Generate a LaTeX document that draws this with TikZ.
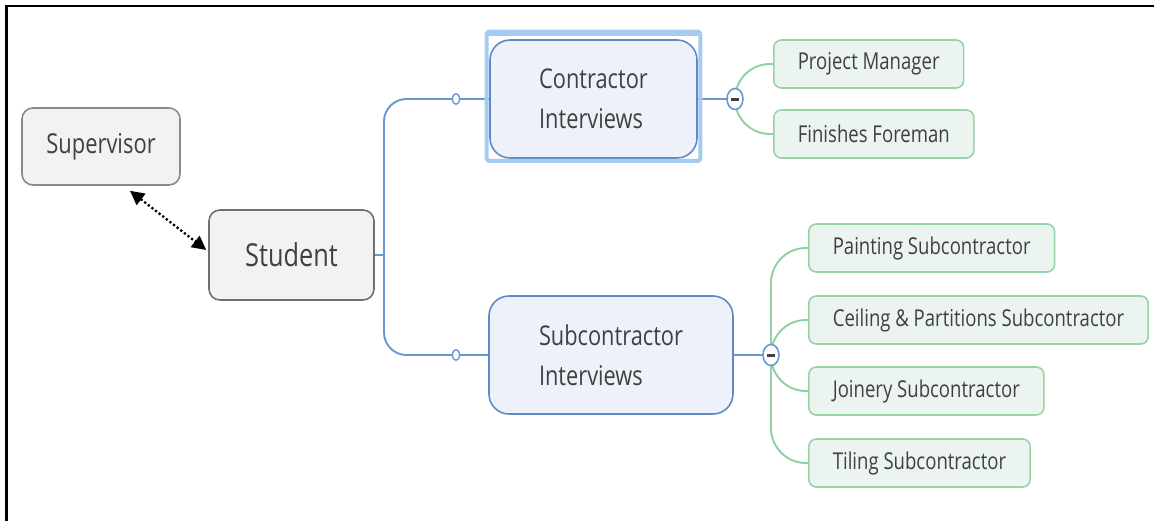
\documentclass[tikz,border=0pt]{standalone}
\usepackage{fontspec}
\setmainfont{Open Sans}[FakeStretch=0.8]
\usetikzlibrary{positioning,arrows.meta,shapes.geometric,backgrounds}

\definecolor{boxgray}{HTML}{F2F2F2}
\definecolor{edgegray}{HTML}{8A8A8A}
\definecolor{edgedark}{HTML}{707070}
\definecolor{boxblue}{HTML}{EDF2FA}
\definecolor{edgeblue}{HTML}{5E89C4}
\definecolor{lineblue}{HTML}{6A97CF}
\definecolor{selblue}{HTML}{A6CBF2}
\definecolor{boxgreen}{HTML}{EBF4EE}
\definecolor{edgegreen}{HTML}{99D3A8}
\definecolor{linegreen}{HTML}{92CFA2}
\definecolor{textgray}{HTML}{404040}

\begin{document}
\begin{tikzpicture}[
graynode/.style={rectangle, rounded corners=0.22cm, draw=edgegray, fill=boxgray, line width=0.9pt, text=textgray},
bluenode/.style={rectangle, rounded corners=0.4cm, draw=edgeblue, fill=boxblue, line width=0.9pt, text=textgray, align=left, font=\fontsize{15.5}{23}\selectfont, minimum height=2.36cm},
greennode/.style={rectangle, rounded corners=0.15cm, draw=edgegreen, fill=boxgreen, line width=0.9pt, text=textgray, anchor=west, inner xsep=0.48cm, minimum height=0.96cm, font=\fontsize{13.2}{15}\selectfont},
knob/.style={ellipse, draw=lineblue, fill=white, line width=0.8pt, inner sep=0pt, minimum width=0.15cm, minimum height=0.21cm},
toggle/.style={ellipse, draw=lineblue, fill=white, line width=0.9pt, inner sep=0pt, minimum width=0.32cm, minimum height=0.42cm,
  path picture={\fill[textgray] ([xshift=-0.08cm,yshift=-0.03cm]path picture bounding box.center) rectangle ([xshift=0.08cm,yshift=0.03cm]path picture bounding box.center);}},
blueline/.style={draw=lineblue, line width=1.1pt},
greenline/.style={draw=linegreen, line width=1.1pt},
linkline/.style={line width=1.3pt, dash pattern=on 1.3pt off 1.3pt, {Triangle[width=8pt,length=8pt]}-{Triangle[width=8pt,length=8pt]}}
]
\useasboundingbox (0,0) rectangle (23.08,-10.42);
%Frame
\draw[line width=1.4pt] (23.08,-0.12) -- (0.13,-0.12) -- (0.13,-10.42);
%Nodes
\node[graynode, minimum width=3.16cm, minimum height=1.54cm, font=\fontsize{15.6}{18}\selectfont] (supervisor) at (2.02,-2.93) {Supervisor};
\node[graynode, draw=edgedark, minimum width=3.30cm, minimum height=1.80cm, font=\fontsize{18}{22}\selectfont] (student) at (5.83,-5.10) {Student};
\node[bluenode, minimum width=4.14cm] (contractor) at (11.87,-1.98) {Contractor\\Interviews};
\node[bluenode, minimum width=4.88cm] (subcontractor) at (12.22,-7.10) {Subcontractor\\Interviews};
\draw[selblue, line width=2.3pt, rounded corners=1pt] ([shift={(-0.05,0.15)}]contractor.north west) rectangle ([shift={(0.05,-0.04)}]contractor.south east);
\fill[selblue] ([shift={(-0.05,0.19)}]contractor.north west) rectangle ([shift={(0.05,0.06)}]contractor.north east);

\node[knob] (dotC) at (9.12,-1.98) {};
\node[knob] (dotS) at (9.12,-7.10) {};
\node[toggle] (minusC) at (14.70,-1.98) {};
\node[toggle] (minusS) at (15.42,-7.10) {};
\coordinate (trunk) at (7.68,-5.10);

\node[greennode] (pm)    at (15.46,-1.28) {Project Manager};
\node[greennode] (ff)    at (15.46,-2.68) {Finishes Foreman};
\node[greennode] (paint) at (16.16,-4.96) {Painting Subcontractor};
\node[greennode] (ceil)  at (16.16,-6.40) {Ceiling \& Partitions Subcontractor};
\node[greennode] (join)  at (16.16,-7.82) {Joinery Subcontractor};
\node[greennode] (tile)  at (16.16,-9.26) {Tiling Subcontractor};
%Lines
\begin{scope}[on background layer]
\draw[blueline] (student.east) -- (trunk);
\draw[blueline, rounded corners=0.45cm] (dotC.center) -| (trunk) |- (dotS.center);
\draw[blueline] (dotC.center) -- (contractor);
\draw[blueline] (dotS.center) -- (subcontractor);
\draw[blueline] (contractor) -- (minusC.center);
\draw[blueline] (subcontractor) -- (minusS.center);
\foreach \leaf in {pm,ff}
  \draw[greenline, rounded corners=0.7cm] (minusC.center) |- (\leaf.west);
\foreach \leaf in {paint,ceil,join,tile}
  \draw[greenline, rounded corners=0.7cm] (minusS.center) |- (\leaf.west);
\end{scope}
\draw[linkline] ([xshift=0.58cm,yshift=-0.1cm]supervisor.south) -- ([xshift=-0.04cm,yshift=0.1cm]student.west);
\end{tikzpicture}
\end{document}
